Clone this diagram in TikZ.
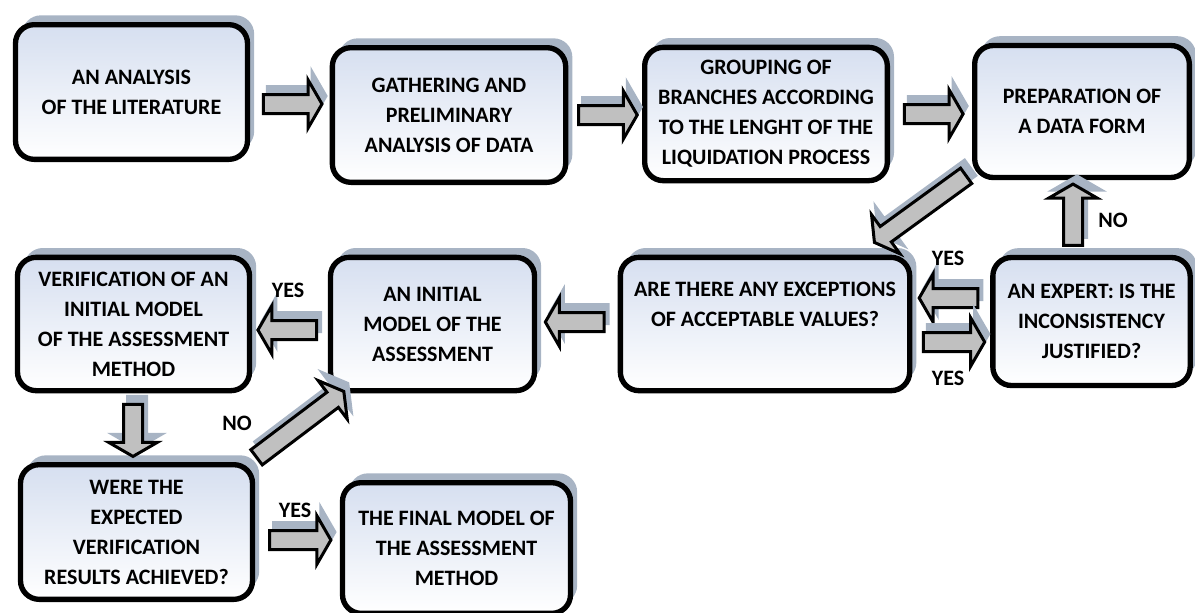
\documentclass[tikz,border=0pt]{standalone}
\usepackage{fontspec}
\setmainfont{Carlito}
\usetikzlibrary{shapes.arrows,shadows}
\definecolor{boxblue}{RGB}{214,223,240}
\definecolor{shadowblue}{RGB}{168,180,196}
\definecolor{arrowgrey}{RGB}{192,192,192}

\begin{document}
\begin{tikzpicture}[x=0.75pt, y=-0.75pt,
  box/.style={draw, line width=4pt, rounded corners=14pt, top color=boxblue, bottom color=white,
    align=center, font=\fontsize{16.5}{22.5}\selectfont\bfseries,
    drop shadow={shadow xshift=5pt, shadow yshift=7pt, fill=shadowblue, opacity=1}},
  barrow/.style={single arrow, draw, line width=2.25pt, fill=arrowgrey, inner sep=6pt,
    single arrow head extend=11pt, single arrow tip angle=120, minimum height=44pt,
    sloped, allow upside down,
    preaction={fill=shadowblue, draw=shadowblue, transform canvas={shift={(3pt,6pt)}}}},
  lbl/.style={font=\fontsize{16.5}{19}\selectfont\bfseries}]
\useasboundingbox (0,0) rectangle (1195,612);

\node[box, minimum width=174pt, minimum height=101pt] (lit) at (131.5,92) {AN ANALYSIS\\OF THE LITERATURE};
\node[box, minimum width=175pt, minimum height=101pt] (gath) at (449,115) {GATHERING AND\\PRELIMINARY\\ANALYSIS OF DATA};
\node[box, minimum width=182pt, minimum height=100pt] (grp) at (766,114) {GROUPING OF\\BRANCHES ACCORDING\\TO THE LENGHT OF THE\\LIQUIDATION PROCESS};
\node[box, minimum width=161pt, minimum height=99pt] (prep) at (1082,111.5) {PREPARATION OF\\A DATA FORM};

\node[box, minimum width=174pt, minimum height=100pt] (verif) at (133.5,324) {VERIFICATION OF AN\\INITIAL MODEL\\OF THE ASSESSMENT\\METHOD};
\node[box, minimum width=153pt, minimum height=100pt] (init) at (432.5,324) {AN INITIAL\\MODEL OF THE\\ASSESSMENT};
\node[box, minimum width=217pt, minimum height=100pt, text depth=30pt] (exc) at (765,324) {ARE THERE ANY EXCEPTIONS\\OF ACCEPTABLE VALUES?};
\node[box, minimum width=148pt, minimum height=96pt] (expert) at (1091.5,321.5) {AN EXPERT: IS THE\\INCONSISTENCY\\JUSTIFIED?};

\node[box, minimum width=174pt, minimum height=101pt] (were) at (136.5,532) {WERE THE\\EXPECTED\\VERIFICATION\\RESULTS ACHIEVED?};
\node[box, minimum width=171pt, minimum height=98pt] (final) at (456.5,548) {THE FINAL MODEL OF\\THE ASSESSMENT\\METHOD};

\coordinate (d1s) at (970,173);
\coordinate (d1e) at (875,242);
\coordinate (d2s) at (253,460);
\coordinate (d2e) at (343,392);

\path (lit.east |- 0,104) -- node[barrow] (a1) {} (gath.west |- 0,104);
\path (gath.east |- 0,115) -- node[barrow] (a2) {} (grp.west |- 0,115);
\path (grp.east |- 0,114) -- node[barrow] (a3) {} (prep.west |- 0,114);
\path (d1s) -- node[barrow, minimum height=85pt] (a4) {} (d1e);
\path (1073,0 |- expert.north) -- node[barrow, minimum height=46pt] (a5) {} (1073,0 |- prep.south);
\path (expert.west |- 0,298) -- node[barrow] (a6) {} (exc.east |- 0,298);
\path (exc.east |- 0,342) -- node[barrow, minimum height=46pt] (a7) {} (expert.west |- 0,342);
\path (exc.west |- 0,322) -- node[barrow] (a8) {} (init.east |- 0,322);
\path (init.west |- 0,330) -- node[barrow] (a9) {} (verif.east |- 0,330);
\path (133,0 |- verif.south) -- node[barrow, minimum height=39pt] (a10) {} (133,0 |- were.north);
\path (d2s) -- node[barrow, minimum height=82pt] (a11) {} (d2e);
\path (were.east |- 0,540) -- node[barrow, minimum height=46pt] (a12) {} (final.west |- 0,540);

\node[lbl] (y1) at (948,258) {YES};
\node[lbl] (y2) at (948,378) {YES};
\node[lbl] (n1) at (1113,220) {NO};
\node[lbl] (y3) at (288,290) {YES};
\node[lbl] (n2) at (237,423) {NO};
\node[lbl] (y4) at (295,510) {YES};
\end{tikzpicture}
\end{document}
